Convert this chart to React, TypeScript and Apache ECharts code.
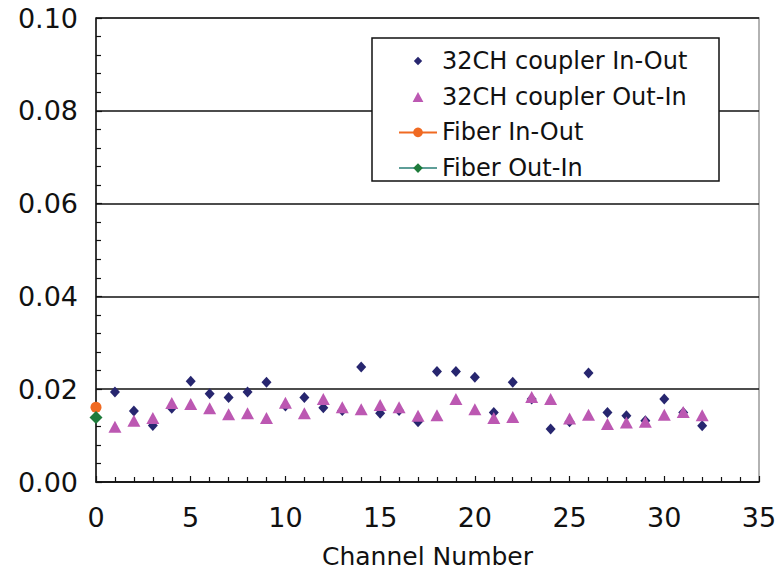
import React, { useEffect, useRef } from "react";
import * as echarts from "echarts";

const channels = [1, 2, 3, 4, 5, 6, 7, 8, 9, 10, 11, 12, 13, 14, 15, 16, 17, 18, 19, 20, 21, 22, 23, 24, 25, 26, 27, 28, 29, 30, 31, 32];
const couplerInOut = [0.0194, 0.0153, 0.0122, 0.0159, 0.0217, 0.019, 0.0182, 0.0194, 0.0215, 0.0164, 0.0182, 0.016, 0.0154, 0.0248, 0.0148, 0.0154, 0.013, 0.0238, 0.0238, 0.0226, 0.015, 0.0215, 0.0179, 0.0114, 0.013, 0.0235, 0.015, 0.0143, 0.0132, 0.0179, 0.015, 0.0121];
const couplerOutIn = [0.0119, 0.0132, 0.0138, 0.017, 0.0168, 0.0159, 0.0146, 0.0148, 0.0138, 0.0171, 0.0148, 0.0179, 0.0161, 0.0157, 0.0166, 0.0161, 0.0143, 0.0144, 0.0179, 0.0157, 0.0138, 0.014, 0.0183, 0.0179, 0.0137, 0.0145, 0.0125, 0.0128, 0.013, 0.0145, 0.0151, 0.0144];
const fiberChannel = [0];
const fiberInOut = [0.0161];
const fiberOutIn = [0.0139];
const seriesNames = ["32CH coupler In-Out", "32CH coupler Out-In", "Fiber In-Out", "Fiber Out-In"];

export default function App() {
  const ref = useRef<HTMLDivElement>(null);
  useEffect(() => {
    if (!ref.current) return;
    const chart = echarts.init(ref.current, undefined, { renderer: "svg" });
    const font = "DejaVu Sans";
    chart.setOption({
      animation: false,
      backgroundColor: "#ffffff",
      textStyle: { fontFamily: font },
      grid: { left: 96, top: 18, right: 24, bottom: 97, show: true, borderColor: "#9a9a9a", borderWidth: 1.5, containLabel: false },
      xAxis: {
        type: "value",
        min: 0,
        max: 35,
        interval: 5,
        name: "Channel Number",
        nameLocation: "middle",
        nameGap: 62,
        nameTextStyle: { fontSize: 25, color: "#111", fontFamily: font },
        axisLine: { show: true, lineStyle: { color: "#111", width: 1.5 } },
        axisTick: { show: true, inside: true, length: 6, lineStyle: { color: "#111", width: 1.2 } },
        minorTick: { show: true, splitNumber: 5, length: 5, lineStyle: { color: "#111", width: 1.2 } },
        axisLabel: { fontSize: 27, color: "#111", margin: 22, fontFamily: font },
        splitLine: { show: false },
      },
      yAxis: {
        type: "value",
        min: 0,
        max: 0.1,
        interval: 0.02,
        axisLine: { show: true, lineStyle: { color: "#111", width: 1.5 } },
        axisTick: { show: true, inside: true, length: 6, lineStyle: { color: "#111", width: 1.2 } },
        minorTick: { show: true, splitNumber: 5, length: 5, lineStyle: { color: "#111", width: 1.2 } },
        axisLabel: { fontSize: 27, color: "#111", margin: 18, fontFamily: font, formatter: (v: number) => v.toFixed(2) },
        splitLine: { show: true, lineStyle: { color: "#111", width: 1.5 } },
      },
      legend: {
        orient: "vertical",
        left: 398,
        top: 49,
        padding: 0,
        itemWidth: 38,
        itemHeight: 12,
        itemGap: 11.7,
        symbolKeepAspect: true,
        textStyle: { fontSize: 24, color: "#111", fontFamily: font, lineHeight: 24 },
        data: [
          { name: seriesNames[0], icon: "path://M0 0M4.5 1.5L8 5L4.5 8.5L1 5ZM9 10" },
          { name: seriesNames[1], icon: "path://M0 0M5 1L9.5 9.5L0.5 9.5ZM10 10" },
          { name: seriesNames[2] },
          { name: seriesNames[3] },
        ],
        z: 10,
      },
      graphic: [
        {
          type: "rect",
          z: 5,
          shape: { x: 372, y: 38, width: 347, height: 143 },
          style: { fill: "#ffffff", stroke: "#111", lineWidth: 1.5 },
        },
      ],
      series: [
        {
          name: seriesNames[0],
          type: "scatter",
          symbol: "diamond",
          symbolSize: [10, 11],
          itemStyle: { color: "#27266F", opacity: 1 },
          data: channels.map((c, i) => [c, couplerInOut[i]]),
          z: 2,
        },
        {
          name: seriesNames[1],
          type: "scatter",
          symbol: "triangle",
          symbolSize: [13, 12],
          itemStyle: { color: "#BC58B2", opacity: 1 },
          data: channels.map((c, i) => [c, couplerOutIn[i]]),
          z: 3,
        },
        {
          name: seriesNames[2],
          type: "line",
          symbol: "circle",
          symbolSize: 11,
          clip: false,
          itemStyle: { color: "#F06A22" },
          lineStyle: { color: "#F06A22", width: 2 },
          data: fiberChannel.map((c, i) => [c, fiberInOut[i]]),
          z: 4,
        },
        {
          name: seriesNames[3],
          type: "line",
          symbol: "diamond",
          symbolSize: 13,
          clip: false,
          itemStyle: { color: "#1E7B3B" },
          lineStyle: { color: "#5E9E98", width: 2 },
          data: fiberChannel.map((c, i) => [c, fiberOutIn[i]]),
          z: 5,
        },
      ],
    });
    return () => chart.dispose();
  }, []);
  return <div ref={ref} style={{ position: "fixed", left: 0, top: 0, width: 783, height: 579 }} />;
}
